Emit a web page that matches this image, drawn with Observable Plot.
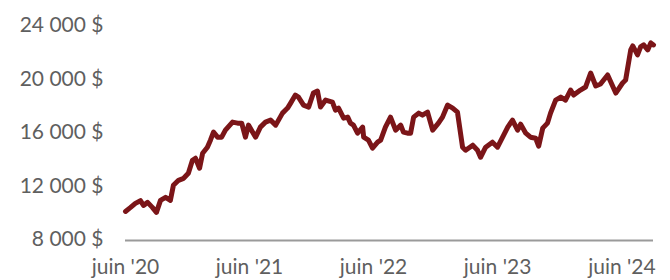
<!DOCTYPE html>
<html>
<head>
<meta charset="utf-8">
<script src="https://cdn.jsdelivr.net/npm/d3@7"></script>
<script src="https://cdn.jsdelivr.net/npm/@observablehq/plot@0.6"></script>
<style>
  html, body { margin: 0; padding: 0; background: #fff; }
  #chart { width: 670px; height: 280px; }
</style>
</head>
<body>
<div id="chart"></div>
<script>
const dates = [
  "2020-06-01","2020-06-16","2020-06-30","2020-07-15","2020-07-24","2020-08-05","2020-08-19","2020-08-31",
  "2020-09-12","2020-09-27","2020-10-11","2020-10-20","2020-11-04","2020-11-19","2020-12-03","2020-12-15",
  "2020-12-24","2021-01-05","2021-01-14","2021-01-28","2021-02-06","2021-02-15","2021-02-27","2021-03-11",
  "2021-03-22","2021-04-12","2021-04-27","2021-05-09","2021-05-20","2021-05-29","2021-06-19","2021-07-03",
  "2021-07-18","2021-08-02","2021-08-17","2021-09-06","2021-09-21","2021-09-30","2021-10-14","2021-10-23",
  "2021-11-07","2021-11-22","2021-12-06","2021-12-18","2021-12-27","2022-01-11","2022-01-31","2022-02-09",
  "2022-02-18","2022-03-05","2022-03-17","2022-03-25","2022-04-03","2022-04-15","2022-04-30","2022-05-03",
  "2022-05-17","2022-05-29","2022-06-13","2022-06-22","2022-07-06","2022-07-21","2022-08-05","2022-08-20",
  "2022-08-28","2022-09-09","2022-09-18","2022-09-27","2022-10-12","2022-10-23","2022-11-07","2022-11-22",
  "2022-12-09","2022-12-21","2023-01-05","2023-01-20","2023-02-03","2023-02-18","2023-02-27","2023-03-20",
  "2023-04-03","2023-04-12","2023-04-27","2023-05-17","2023-06-01","2023-06-19","2023-07-01","2023-07-15",
  "2023-07-30","2023-08-08","2023-08-23","2023-09-06","2023-09-21","2023-09-30","2023-10-12","2023-10-26",
  "2023-11-04","2023-11-19","2023-12-04","2023-12-18","2024-01-02","2024-01-11","2024-01-31","2024-02-15",
  "2024-03-01","2024-03-16","2024-03-30","2024-04-20","2024-05-14","2024-06-03","2024-06-12","2024-06-27",
  "2024-07-03","2024-07-17","2024-07-26","2024-08-04","2024-08-16","2024-08-25","2024-09-02"
];
const values = [
  10100,10400,10700,10900,10550,10775,10400,10025,
  10925,11150,10925,12050,12425,12575,12950,13925,
  14075,13325,14450,14900,15425,16025,15650,15650,
  16175,16775,16700,16700,15650,16550,15650,16400,
  16775,16925,16550,17450,17825,18200,18800,18650,
  18050,17900,18950,19100,17900,18425,18275,17675,
  17825,17075,17150,16700,16550,15950,16400,15650,
  15425,14825,15275,15425,16400,17150,16175,16550,
  16025,15950,15950,17150,17450,17300,17525,16175,
  16700,17150,18050,17825,17525,14900,14675,15050,
  14675,14150,14900,15275,14900,15800,16400,16925,
  16175,16625,15950,15650,15575,14975,16325,16700,
  17450,18425,18650,18425,19175,18800,19175,19400,
  20450,19475,19625,20300,18950,19700,19925,22175,
  22475,21800,22400,22550,22175,22700,22550
];
const yTicks = [8000, 12000, 16000, 20000, 24000];
const xTicks = ["2020-06-01","2021-06-01","2022-06-01","2023-06-01","2024-06-01"];

const parse = d3.utcParse("%Y-%m-%d");
const data = dates.map((d, i) => ({date: parse(d), value: values[i]}));
const fmtNum = v => d3.format(",")(v).replace(/,/g, " ") + " $";
const fmtDate = d => "juin '" + d3.utcFormat("%y")(d);

const chart = Plot.plot({
  width: 670,
  height: 280,
  marginLeft: 125,
  marginRight: 17,
  marginTop: 25,
  marginBottom: 41,
  style: {fontFamily: "Lato, sans-serif", fontSize: "21px", color: "#5f5f5f", background: "#fff"},
  x: {type: "utc", domain: [parse(dates[0]), parse(dates[dates.length - 1])]},
  y: {domain: [8000, 24000]},
  marks: [
    Plot.axisY({ticks: yTicks, tickSize: 0, tickPadding: 22, tickFormat: fmtNum, label: null, fill: "#5f5f5f"}),
    Plot.axisX({ticks: xTicks.map(parse), tickSize: 0, tickPadding: 20, tickFormat: fmtDate, label: null, fill: "#5f5f5f"}),
    Plot.ruleY([8000], {stroke: "#9a9a9a", strokeWidth: 2, dy: 1}),
    Plot.line(data, {x: "date", y: "value", stroke: "#7b1518", strokeWidth: 5, strokeLinejoin: "round", strokeLinecap: "round"})
  ]
});
document.getElementById("chart").appendChild(chart);
</script>
</body>
</html>
